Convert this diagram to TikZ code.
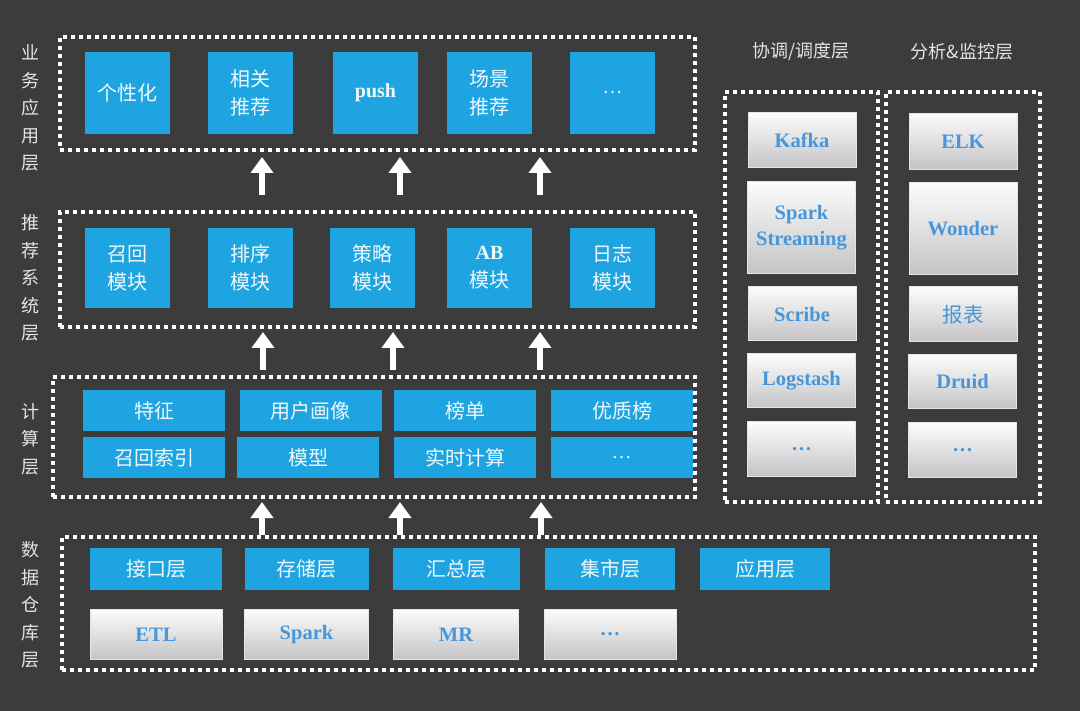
\documentclass[tikz,border=0pt]{standalone}
\usepackage{fontspec}
\setmainfont{Liberation Serif}
\newfontfamily\cjk{Noto Sans CJK SC}
\usetikzlibrary{
  arrows.meta,
  positioning,
  calc,
}
\definecolor{boardbg}{RGB}{60,60,60}
\definecolor{tileblue}{RGB}{30,165,225}
\definecolor{tiletext}{RGB}{240,248,252}
\definecolor{greytop}{RGB}{252,252,252}
\definecolor{greybot}{RGB}{196,196,198}
\definecolor{greytext}{RGB}{72,150,218}
\definecolor{chalk}{RGB}{228,228,228}
\tikzset{
  bluetile/.style={
    rectangle, fill=tileblue, text=tiletext, inner sep=0pt,
    align=center, font=\cjk\fontsize{20}{28}\selectfont
  },
  greytile/.style={
    rectangle, top color=greytop, bottom color=greybot,
    draw=white!80!gray, line width=1pt, text=greytext, inner sep=0pt,
    align=center, font=\bfseries\fontsize{20.5}{26}\selectfont
  },
  layerframe/.style={
    rectangle, draw=white, line width=4pt, dash pattern=on 4pt off 4pt,
    inner sep=0pt
  },
  layerlabel/.style={align=center, text=chalk, font=\cjk\fontsize{18}{27.6}\selectfont},
  toplabel/.style={text=chalk, font=\cjk\fontsize{18}{20}\selectfont},
  uparrow/.style={-{Triangle[width=22pt,length=16pt]}, line width=6pt, white},
}

\begin{document}
\begin{tikzpicture}[x=1pt, y=-1pt]

  % ── Board ──
  \fill[boardbg] (0,0) rectangle (1080,711);

  % ── Layer labels ──
  \node[layerlabel] (applabel)  at (30,108) {业\\务\\应\\用\\层};
  \node[layerlabel] (reclabel)  at (30,278) {推\\荐\\系\\统\\层};
  \node[layerlabel] (complabel) at (30,439) {计\\算\\层};
  \node[layerlabel] (datalabel) at (30,605) {数\\据\\仓\\库\\层};
  \node[toplabel] (coordlabel) at (801,52) {协调/调度层};
  \node[toplabel] (monlabel)   at (962,52) {分析\&监控层};

  % ── Frames ──
  \node[layerframe, minimum width=635pt, minimum height=113pt] (appframe)  at (377.5,93.5) {};
  \node[layerframe, minimum width=635pt, minimum height=115pt] (recframe)  at (377.5,269.5) {};
  \node[layerframe, minimum width=642pt, minimum height=120pt] (compframe) at (374,437) {};
  \node[layerframe, minimum width=973pt, minimum height=133pt] (dataframe) at (548.5,603.5) {};
  \node[layerframe, minimum width=153pt, minimum height=410pt] (coordframe) at (801.5,297) {};
  \node[layerframe, minimum width=154pt, minimum height=410pt] (monframe)   at (963,297) {};

  % ── Application layer ──
  \node[bluetile, minimum width=85pt, minimum height=82pt] (personal) at (127.5,93) {个性化};
  \node[bluetile, minimum width=85pt, minimum height=82pt] (related)  at (250.5,93) {相关\\推荐};
  \node[bluetile, minimum width=85pt, minimum height=82pt] (push)     at (375.5,93) {\rmfamily\bfseries push};
  \node[bluetile, minimum width=85pt, minimum height=82pt] (scene)    at (489.5,93) {场景\\推荐};
  \node[bluetile, minimum width=85pt, minimum height=82pt] (appmore)  at (612.5,93) {\rmfamily\ldots};

  % ── Recommender layer ──
  \node[bluetile, minimum width=85pt, minimum height=80pt] (recall)   at (127.5,268) {召回\\模块};
  \node[bluetile, minimum width=85pt, minimum height=80pt] (ranking)  at (250,268) {排序\\模块};
  \node[bluetile, minimum width=85pt, minimum height=80pt] (strategy) at (372.5,268) {策略\\模块};
  \node[bluetile, minimum width=85pt, minimum height=80pt] (abtest)   at (489.5,268) {{\rmfamily\bfseries AB}\\模块};
  \node[bluetile, minimum width=85pt, minimum height=80pt] (logging)  at (612.5,268) {日志\\模块};

  % ── Computing layer ──
  \node[bluetile, minimum width=142pt, minimum height=41pt] (feature)  at (154,410.5) {特征};
  \node[bluetile, minimum width=142pt, minimum height=41pt] (profile)  at (310.5,411) {用户画像};
  \node[bluetile, minimum width=142pt, minimum height=41pt] (toplist)  at (465,411) {榜单};
  \node[bluetile, minimum width=142pt, minimum height=41pt] (quality)  at (622,411) {优质榜};
  \node[bluetile, minimum width=142pt, minimum height=41pt] (index)    at (154,457.5) {召回索引};
  \node[bluetile, minimum width=142pt, minimum height=41pt] (model)    at (308,457.5) {模型};
  \node[bluetile, minimum width=142pt, minimum height=41pt] (realtime) at (465,457.5) {实时计算};
  \node[bluetile, minimum width=142pt, minimum height=41pt] (compmore) at (621.5,457.5) {\rmfamily\ldots};

  % ── Data warehouse layer ──
  \node[bluetile, minimum width=132pt, minimum height=42pt] (ifacelayer) at (156,569) {接口层};
  \node[bluetile, minimum width=124pt, minimum height=42pt] (storelayer) at (306.5,569) {存储层};
  \node[bluetile, minimum width=127pt, minimum height=42pt] (sumlayer)   at (456,569) {汇总层};
  \node[bluetile, minimum width=130pt, minimum height=42pt] (martlayer)  at (610,569) {集市层};
  \node[bluetile, minimum width=130pt, minimum height=42pt] (uselayer)   at (765,569) {应用层};
  \node[greytile, minimum width=132pt, minimum height=50pt] (etl)   at (156,634.5) {ETL};
  \node[greytile, minimum width=124pt, minimum height=50pt] (spark) at (306.5,634.5) {Spark};
  \node[greytile, minimum width=125pt, minimum height=50pt] (mr)    at (456,634.5) {MR};
  \node[greytile, minimum width=132pt, minimum height=50pt] (datamore) at (610,634.5) {\ldots};

  % ── Coordination / scheduling ──
  \node[greytile, minimum width=108pt, minimum height=55pt] (kafka)     at (802,140.5) {Kafka};
  \node[greytile, minimum width=108pt, minimum height=92pt] (streaming) at (801.5,228) {Spark\\Streaming};
  \node[greytile, minimum width=108pt, minimum height=54pt] (scribe)    at (802,314) {Scribe};
  \node[greytile, minimum width=108pt, minimum height=54pt] (logstash)  at (801.5,381) {Logstash};
  \node[greytile, minimum width=108pt, minimum height=55pt] (coordmore) at (801.5,449.5) {\ldots};

  % ── Analysis / monitoring ──
  \node[greytile, minimum width=108pt, minimum height=56pt] (elk)     at (963,141.5) {ELK};
  \node[greytile, minimum width=108pt, minimum height=92pt] (wonder)  at (963,228.5) {Wonder};
  \node[greytile, minimum width=108pt, minimum height=55pt] (report)  at (963,314.5) {\cjk\mdseries 报表};
  \node[greytile, minimum width=108pt, minimum height=54pt] (druid)   at (962.5,382) {Druid};
  \node[greytile, minimum width=108pt, minimum height=55pt] (monmore) at (962.5,450.5) {\ldots};

  % ── Arrows ──
  \foreach \ax in {262,400,540}
    \draw[uparrow, shorten <=15pt, shorten >=5pt] (recframe.north -| \ax,0) -- (appframe.south -| \ax,0);
  \foreach \ax in {263,393,540}
    \draw[uparrow, shorten <=5pt, shorten >=3pt] (compframe.north -| \ax,0) -- (recframe.south -| \ax,0);
  \foreach \ax in {262,400,541}
    \draw[uparrow, shorten <=0pt, shorten >=3pt] (dataframe.north -| \ax,0) -- (compframe.south -| \ax,0);

\end{tikzpicture}
\end{document}
